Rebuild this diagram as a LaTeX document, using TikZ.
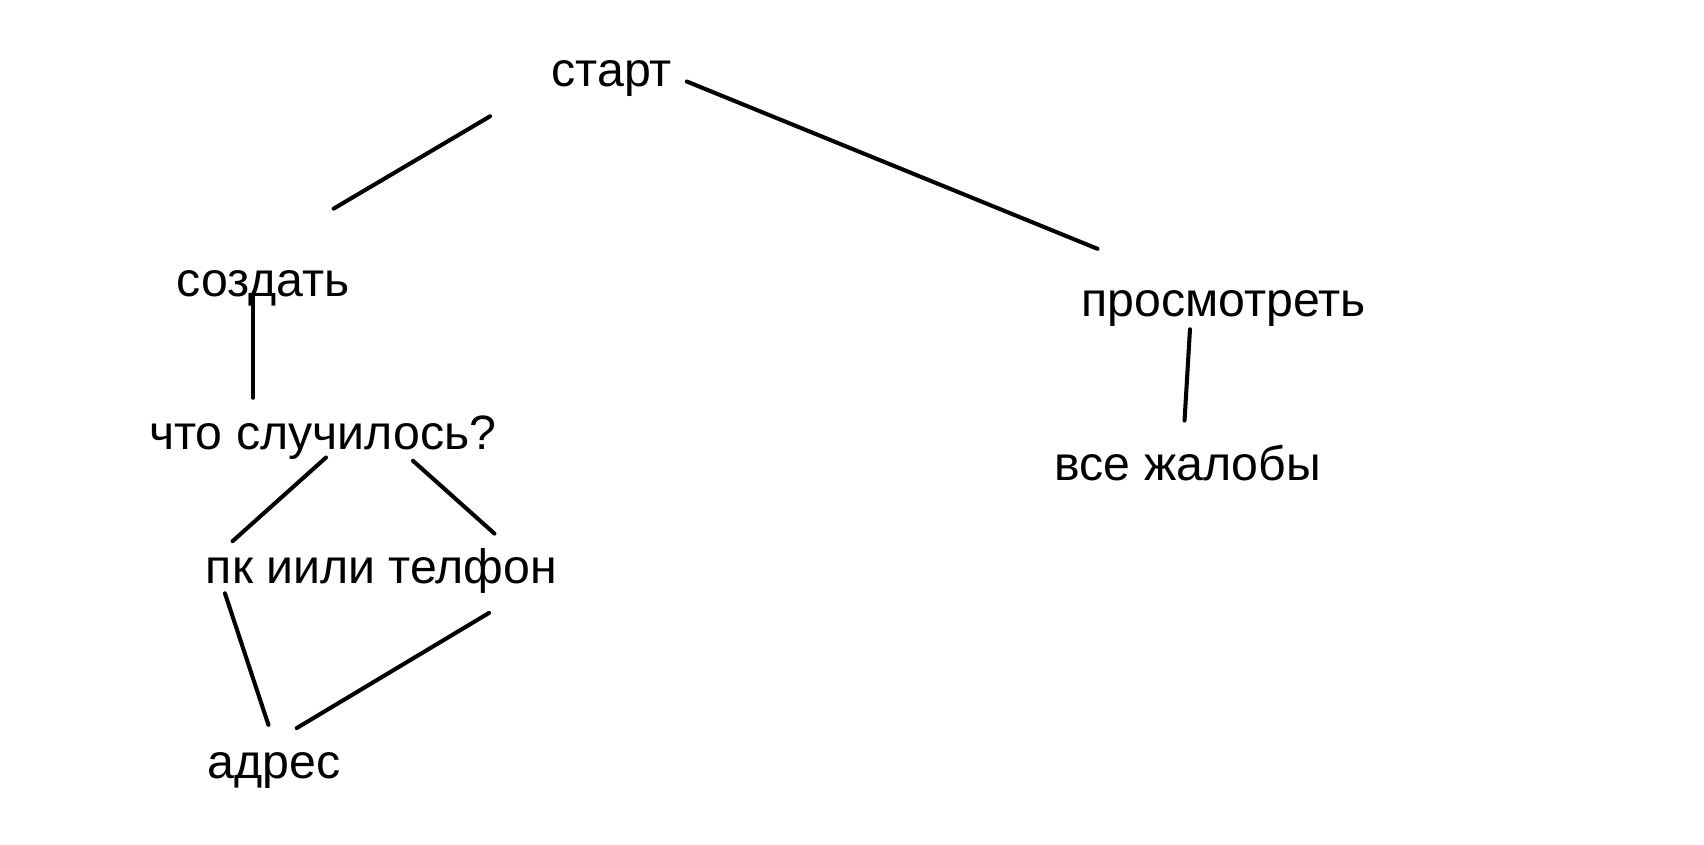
\documentclass[tikz,border=0pt]{standalone}
\usepackage{fontspec}
\setmainfont{Liberation Sans}

\tikzset{every picture/.style={line width=0.75pt}}
\tikzset{label text/.style={anchor=base,inner sep=0pt,font=\fontsize{33.3}{40}\selectfont}}
\tikzset{stroke/.style={line width=2.8pt,line cap=round}}

\begin{document}
\begin{tikzpicture}[x=0.75pt,y=0.75pt,yscale=-1,xscale=1]
%set diagram size
\useasboundingbox (0,0) rectangle (1568,777);

% Text Node
\node (start) [label text] at (563,80) {старт};
% Text Node
\node (create) [label text] at (242,273) {создать};
% Text Node
\node (view) [label text] at (1126,291) {просмотреть};
% Text Node
\node (what) [label text] at (297,414) {что случилось?};
% Text Node
\node (all) [label text] at (1093,442) {все жалобы};
% Text Node
\node (device) [label text] at (351,537) {пк иили телфон};
% Text Node
\node (address) [label text] at (252,716) {адрес};

%Line ends
\coordinate (start-l) at (451,107);
\coordinate (create-t) at (307,192);
\coordinate (start-r) at (632,75);
\coordinate (view-t) at (1010,229);
\coordinate (create-b) at (233,272);
\coordinate (what-t) at (233,366);
\coordinate (view-b) at (1095,303);
\coordinate (all-t) at (1090,387);
\coordinate (what-l) at (300,421);
\coordinate (device-l) at (214,498);
\coordinate (what-r) at (380,424);
\coordinate (device-r) at (455,491);
\coordinate (device-bl) at (207,546);
\coordinate (address-l) at (247,667);
\coordinate (device-br) at (450,564);
\coordinate (address-r) at (273,670);

%Straight Lines
\draw [stroke] (start-l) -- (create-t) ;
%Straight Lines
\draw [stroke] (start-r) -- (view-t) ;
%Straight Lines
\draw [stroke] (create-b) -- (what-t) ;
%Straight Lines
\draw [stroke] (view-b) -- (all-t) ;
%Straight Lines
\draw [stroke] (what-l) -- (device-l) ;
%Straight Lines
\draw [stroke] (what-r) -- (device-r) ;
%Straight Lines
\draw [stroke] (device-bl) -- (address-l) ;
%Straight Lines
\draw [stroke] (device-br) -- (address-r) ;

\end{tikzpicture}
\end{document}
